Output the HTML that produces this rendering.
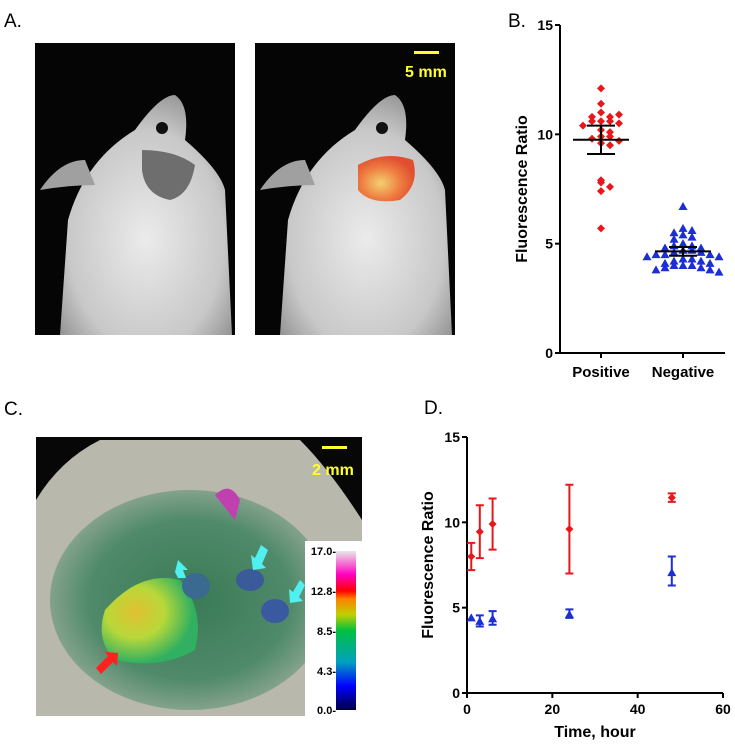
<!DOCTYPE html>
<html><head><meta charset="utf-8"><style>
body{margin:0;background:#fff;width:735px;height:747px;overflow:hidden;font-family:"Liberation Sans",sans-serif}
svg{position:absolute;left:0;top:0}
</style></head><body>
<svg width="735" height="747">
<defs>
<radialGradient id="fur" cx="50%" cy="60%" r="65%"><stop offset="0" stop-color="#ebebeb"/><stop offset="0.7" stop-color="#c8c8c8"/><stop offset="1" stop-color="#909090"/></radialGradient>
<radialGradient id="tum" cx="40%" cy="60%" r="60%"><stop offset="0" stop-color="#f3d070"/><stop offset="0.6" stop-color="#ee7a40"/><stop offset="1" stop-color="#e05030"/></radialGradient>
<radialGradient id="bg" cx="50%" cy="50%" r="60%"><stop offset="0" stop-color="#3a7a55"/><stop offset="0.6" stop-color="#4f8a6a"/><stop offset="1" stop-color="#a9b3a5"/></radialGradient>
<radialGradient id="tumC" cx="35%" cy="40%" r="60%"><stop offset="0" stop-color="#e0c030"/><stop offset="0.5" stop-color="#b8d83a"/><stop offset="1" stop-color="#30b060"/></radialGradient>
<linearGradient id="cbar" x1="0" y1="1" x2="0" y2="0"><stop offset="0" stop-color="#000040"/><stop offset="0.15" stop-color="#0000ff"/><stop offset="0.3" stop-color="#00a0c0"/><stop offset="0.5" stop-color="#00c040"/><stop offset="0.6" stop-color="#c0d000"/><stop offset="0.7" stop-color="#ff8000"/><stop offset="0.75" stop-color="#ff0000"/><stop offset="0.85" stop-color="#ff00c0"/><stop offset="1" stop-color="#e8e8e8"/></linearGradient>
</defs>
<text x="4" y="27" font-size="19">A.</text>
<g>
<rect x="35" y="43" width="200" height="292" fill="#050505"/>
<path d="M60,335 L68,220 Q85,160 135,130 Q160,95 175,95 Q190,105 185,140 Q220,170 225,190 L232,335 Z" fill="url(#fur)"/>
<path d="M40,190 Q60,160 85,160 L95,185 Q70,185 40,190Z" fill="#a0a0a0"/>
<circle cx="162" cy="128" r="6" fill="#111"/>
<path d="M142,150 Q175,150 195,165 Q190,195 170,200 Q145,195 142,170Z" fill="#6e6e6e"/>
</g>
<g>
<rect x="255" y="43" width="200" height="292" fill="#050505"/>
<path d="M280,335 L288,220 Q305,160 355,130 Q380,95 395,95 Q410,105 405,140 Q440,170 445,190 L452,335 Z" fill="url(#fur)"/>
<path d="M260,190 Q280,160 305,160 L315,185 Q290,185 260,190Z" fill="#a0a0a0"/>
<circle cx="382" cy="128" r="6" fill="#111"/>
<path d="M358,165 Q385,150 413,160 Q420,185 400,200 Q370,205 358,190Z" fill="url(#tum)"/>
<rect x="414" y="51" width="25" height="3" fill="#ffff30"/>
<text x="405" y="77" font-size="16" font-weight="bold" fill="#ffff30">5 mm</text>
</g>
<text x="4" y="415" font-size="19">C.</text>
<g>
<rect x="36" y="437" width="326" height="279" fill="#070707"/>
<path d="M36,500 Q60,460 100,440 L300,440 Q330,470 362,520 L362,716 L36,716Z" fill="#b8b8ad"/>
<ellipse cx="190" cy="600" rx="140" ry="110" fill="url(#bg)"/>
<path d="M215,495 Q230,480 240,500 L235,520Z" fill="#c040b0"/>
<path d="M105,610 Q140,570 180,580 Q205,610 195,650 Q160,670 115,660 Q95,640 105,610Z" fill="url(#tumC)"/>
<ellipse cx="196" cy="586" rx="14" ry="13" fill="#3a6a90"/>
<ellipse cx="250" cy="580" rx="14" ry="11" fill="#3a5a9a"/>
<ellipse cx="275" cy="611" rx="14" ry="12" fill="#3a5aa0"/>
<path d="M96,668 L108,656 L105,652 L118,653 L117,666 L113,662 L101,674Z" fill="#ff2020"/>
<path d="M178,560 L188,570 L183,570 L186,578 L178,578 L175,572 Z" fill="#50f0f0"/>
<path d="M261,545 L255,558 L251,555 L253,570 L266,568 L262,564 L268,550Z" fill="#50f0f0"/>
<path d="M300,580 L293,592 L289,589 L290,603 L303,601 L299,597 L305,585Z" fill="#50f0f0"/>
<rect x="322" y="446" width="25" height="3" fill="#ffff30"/>
<text x="312" y="475" font-size="16" font-weight="bold" fill="#ffff30">2 mm</text>
<rect x="305" y="541" width="57" height="175" fill="#fff"/>
<rect x="336" y="551" width="20" height="159" fill="url(#cbar)"/>
<g font-size="11" font-weight="bold" text-anchor="end">
<text x="336" y="555">17.0-</text><text x="336" y="595">12.8-</text><text x="336" y="635">8.5-</text><text x="336" y="675">4.3-</text><text x="336" y="714">0.0-</text>
</g>
</g>
<text x="508" y="27" font-size="19">B.</text>
<text x="424" y="414" font-size="19">D.</text>
<g id="chartB"></g>
<g id="chartD"></g>
</svg>
<script>
const NS='http://www.w3.org/2000/svg';
function mk(p,t,a){const e=document.createElementNS(NS,t);for(const k in a)e.setAttribute(k,a[k]);p.appendChild(e);return e;}
// Panel B data
const bCategories=['Positive','Negative'];
const bPositive=[12.1,11.4,11.0,10.8,10.8,10.9,10.6,10.6,10.6,10.5,10.4,10.2,10.1,9.9,9.9,9.8,9.7,9.6,9.5,7.9,7.8,7.6,7.4,5.7];
const bNegative=[6.7,5.7,5.6,5.5,5.4,5.3,5.2,5.0,4.9,4.9,4.8,4.8,4.7,4.7,4.6,4.6,4.5,4.5,4.5,4.4,4.4,4.3,4.3,4.2,4.2,4.1,4.1,4.0,4.0,4.0,3.9,3.9,3.8,3.8,3.7];
const bMean=[9.75,4.65];
const bErrLow=[9.1,4.45];
const bErrHigh=[10.4,4.85];
const bTicks=[0,5,10,15];
// Panel D data
const dTimes=[1,3,6,24,48];
const dRed=[8.0,9.45,9.9,9.6,11.45];
const dRedLow=[7.2,7.9,8.4,7.0,11.2];
const dRedHigh=[8.8,11.0,11.4,12.2,11.7];
const dBlue=[4.4,4.2,4.35,4.6,7.05];
const dBlueLow=[4.4,3.9,4.0,4.4,6.3];
const dBlueHigh=[4.4,4.55,4.8,4.9,8.0];
const dYTicks=[0,5,10,15];
const dXTicks=[0,20,40,60];

function diamond(g,x,y,c){const e=mk(g,'path',{d:`M${x},${y-4}L${x+4},${y}L${x},${y+4}L${x-4},${y}Z`,fill:c});}
function tri(g,x,y,c,n){const e=mk(g,'path',{d:`M${x},${y-4.5}L${x+4.5},${y+3.5}L${x-4.5},${y+3.5}Z`,fill:c});}

(function(){
const g=document.getElementById('chartB');
const X0=560,Y0=353,Y15=25,xEnd=725;
const yS=v=>Y0-(v/15)*(Y0-Y15);
const xC=[601,683];
mk(g,'line',{x1:X0,y1:Y15,x2:X0,y2:Y0,stroke:'#000','stroke-width':2});
mk(g,'line',{x1:X0,y1:Y0,x2:xEnd,y2:Y0,stroke:'#000','stroke-width':2});
bTicks.forEach(t=>{mk(g,'line',{x1:X0-5,y1:yS(t),x2:X0,y2:yS(t),stroke:'#000','stroke-width':2});
const tx=mk(g,'text',{x:X0-7,y:yS(t)+5,'font-size':14,'font-weight':'bold','text-anchor':'end'});tx.textContent=t;
});
bCategories.forEach((c,i)=>{mk(g,'line',{x1:xC[i],y1:Y0,x2:xC[i],y2:Y0+5,stroke:'#000','stroke-width':2});
const tx=mk(g,'text',{x:xC[i],y:Y0+24,'font-size':15,'font-weight':'bold','text-anchor':'middle'});tx.textContent=c;
});
const yt=mk(g,'text',{x:0,y:0,'font-size':16,'font-weight':'bold','text-anchor':'middle',transform:`translate(527,${(Y0+Y15)/2}) rotate(-90)`});yt.textContent='Fluorescence Ratio';

function spread(vals,cx,bin,draw){const cnt={};vals.forEach(v=>{const k=Math.round(v/bin);cnt[k]=(cnt[k]||0);const n=cnt[k]++;const off=(n%2?1:-1)*Math.ceil(n/2)*9;draw(cx+off,yS(v));});}
spread(bPositive,xC[0],0.35,(x,y)=>diamond(g,x,y,'#e8171b'));
spread(bNegative,xC[1],0.35,(x,y)=>tri(g,x,y,'#1c2ed6','point-negative'));
[0,1].forEach(i=>{const c=xC[i];
mk(g,'line',{x1:c-28,y1:yS(bMean[i]),x2:c+28,y2:yS(bMean[i]),stroke:'#000','stroke-width':2});
mk(g,'line',{x1:c,y1:yS(bErrLow[i]),x2:c,y2:yS(bErrHigh[i]),stroke:'#000','stroke-width':2});
mk(g,'line',{x1:c-14,y1:yS(bErrLow[i]),x2:c+14,y2:yS(bErrLow[i]),stroke:'#000','stroke-width':2});
mk(g,'line',{x1:c-14,y1:yS(bErrHigh[i]),x2:c+14,y2:yS(bErrHigh[i]),stroke:'#000','stroke-width':2});});
})();

(function(){
const g=document.getElementById('chartD');
const X0=467,X60=723,Y0=693,Y15=437;
const xS=v=>X0+v/60*(X60-X0), yS=v=>Y0-v/15*(Y0-Y15);
mk(g,'line',{x1:X0,y1:Y15,x2:X0,y2:Y0,stroke:'#000','stroke-width':2});
mk(g,'line',{x1:X0,y1:Y0,x2:X60,y2:Y0,stroke:'#000','stroke-width':2});
dYTicks.forEach(t=>{mk(g,'line',{x1:X0-5,y1:yS(t),x2:X0,y2:yS(t),stroke:'#000','stroke-width':2});
const tx=mk(g,'text',{x:X0-7,y:yS(t)+5,'font-size':14,'font-weight':'bold','text-anchor':'end'});tx.textContent=t;
});
dXTicks.forEach(t=>{mk(g,'line',{x1:xS(t),y1:Y0,x2:xS(t),y2:Y0+5,stroke:'#000','stroke-width':2});
const tx=mk(g,'text',{x:xS(t),y:Y0+21,'font-size':14,'font-weight':'bold','text-anchor':'middle'});tx.textContent=t;
});
const xt=mk(g,'text',{x:(X0+X60)/2,y:Y0+44,'font-size':16,'font-weight':'bold','text-anchor':'middle'});xt.textContent='Time, hour';

const yt=mk(g,'text',{x:0,y:0,'font-size':16,'font-weight':'bold','text-anchor':'middle',transform:`translate(433,${(Y0+Y15)/2}) rotate(-90)`});yt.textContent='Fluorescence Ratio';

function eb(x,lo,hi,c){if(hi-lo<0.01)return;const e=mk(g,'path',{d:`M${x},${yS(lo)}V${yS(hi)}M${x-4},${yS(lo)}H${x+4}M${x-4},${yS(hi)}H${x+4}`,stroke:c,'stroke-width':2,fill:'none'});
}
dTimes.forEach((t,i)=>{const x=xS(t);
eb(x,dRedLow[i],dRedHigh[i],'#e8171b');diamond(g,x,yS(dRed[i]),'#e8171b');
eb(x,dBlueLow[i],dBlueHigh[i],'#1c2ed6');tri(g,x,yS(dBlue[i]),'#1c2ed6','point-blue');});
})();
</script>
</body></html>
